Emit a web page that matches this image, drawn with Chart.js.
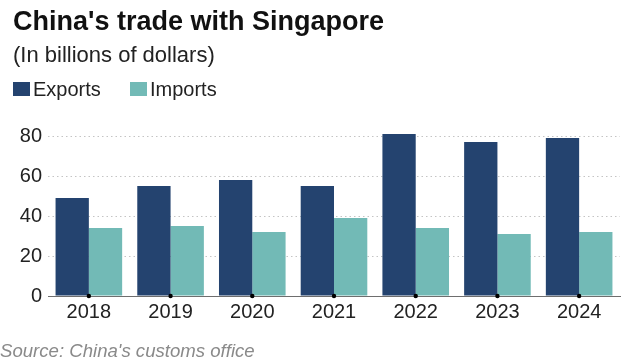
<!DOCTYPE html>
<html>
<head>
<meta charset="utf-8">
<script src="https://cdn.jsdelivr.net/npm/chart.js@4"></script>
<style>
  html, body { margin:0; padding:0; background:#fff; }
  #wrap { position:relative; width:640px; height:361px; overflow:hidden; font-family:"Liberation Sans", Arial, sans-serif; }
  #c { position:absolute; left:0; top:0; }
  .t { position:absolute; white-space:nowrap; line-height:1; }
  #title { left:13px; top:8px; font-size:27px; font-weight:bold; color:#111; }
  #sub { left:13px; top:44px; font-size:22px; color:#222; }
  #legend { left:13px; top:79px; font-size:20px; color:#222; }
  .sw { position:absolute; top:3px; width:17px; height:14px; }
  #source { left:0px; top:342px; font-size:18.6px; font-style:italic; color:#8a8a8a; }
</style>
</head>
<body>
<div id="wrap">
  <canvas id="c" width="640" height="361"></canvas>
  <div id="title" class="t">China's trade with Singapore</div>
  <div id="sub" class="t">(In billions of dollars)</div>
  <div id="legend" class="t"></div>
  <div id="source" class="t">Source: China's customs office</div>
</div>
<script>
const categories = ["2018", "2019", "2020", "2021", "2022", "2023", "2024"];
const exportsValues = [49, 55, 58, 55, 81, 77, 79];
const importsValues = [34, 35, 32, 39, 34, 31, 32];
const seriesNames = ["Exports", "Imports"];
const seriesColors = ["#24436f", "#72bab6"];
const yTicks = [0, 20, 40, 60, 80];

// HTML legend
const legend = document.getElementById('legend');
const legendX = [0, 117];
seriesNames.forEach((name, i) => {
  const sw = document.createElement('span');
  sw.className = 'sw';
  sw.style.left = legendX[i] + 'px';
  sw.style.background = seriesColors[i];
  legend.appendChild(sw);
  const tx = document.createElement('span');
  tx.style.position = 'absolute';
  tx.style.left = (legendX[i] + 20) + 'px';
  tx.textContent = name;
  legend.appendChild(tx);
});

const tickDots = {
  id: 'tickDots',
  afterDatasetsDraw(chart) {
    const ctx = chart.ctx, xs = chart.scales.x, ys = chart.scales.y;
    const y0 = ys.getPixelForValue(0);
    ctx.save();
    ctx.fillStyle = '#000';
    xs.ticks.forEach((t, i) => {
      const x = xs.getPixelForTick(i);
      ctx.beginPath();
      ctx.arc(x, y0, 2.2, 0, Math.PI * 2);
      ctx.fill();
    });
    ctx.restore();
  }
};

new Chart(document.getElementById('c'), {
  type: 'bar',
  data: {
    labels: categories,
    datasets: [
      { label: seriesNames[0], data: exportsValues, backgroundColor: seriesColors[0], borderWidth: 0 },
      { label: seriesNames[1], data: importsValues, backgroundColor: seriesColors[1], borderWidth: 0 }
    ]
  },
  options: {
    responsive: false,
    animation: false,
    devicePixelRatio: 1,
    layout: { padding: { top: 128, right: 20, bottom: 33, left: 0 } },
    datasets: { bar: { categoryPercentage: 0.815, barPercentage: 1.0 } },
    plugins: { legend: { display: false }, tooltip: { enabled: false }, title: { display: false } },
    scales: {
      x: {
        grid: { display: false, drawTicks: false },
        border: { display: true, color: '#6e6e6e', width: 1 },
        ticks: { color: '#222', padding: 4, font: { family: '"Liberation Sans", Arial, sans-serif', size: 20 } }
      },
      y: {
        min: 0, max: 84,
        afterBuildTicks(scale) { scale.ticks = yTicks.map(v => ({ value: v })); },
        afterFit(scale) { scale.width = 48; },
        grid: { color: '#c4c4c4', lineWidth: 1, drawTicks: false },
        border: { display: false, dash: [1.5, 3] },
        ticks: { color: '#222', padding: 6, font: { family: '"Liberation Sans", Arial, sans-serif', size: 20 } }
      }
    }
  },
  plugins: [tickDots]
});
</script>
</body>
</html>
